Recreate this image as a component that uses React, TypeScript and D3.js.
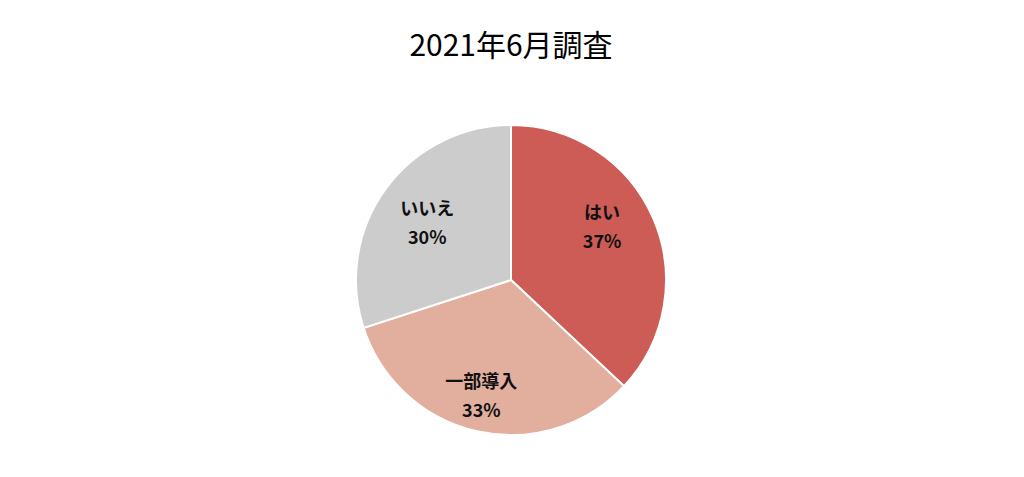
import React from "react";
import * as d3 from "d3";

const categories = ["はい", "一部導入", "いいえ"];
const values = [37, 33, 30];
const colors = ["#CD5C56", "#E2AE9E", "#CCCCCC"];
const title = "2021年6月調査";

// label placement (best-fit style): radius fraction and angle shift per slice
const labelRadius = [0.685, 0.76, 0.66];
const labelShift = [-7.5, 2.0, -1.0];

const width = 1024;
const height = 477;
const cx = 511;
const cy = 280;
const radius = 155;

export default function App() {
  const pie = d3
    .pie<number>()
    .sort(null)
    .value(d => d);
  const arcs = pie(values);
  const arc = d3.arc<d3.PieArcDatum<number>>().innerRadius(0).outerRadius(radius);
  const font = "'Noto Sans CJK JP', 'Noto Sans', sans-serif";

  return (
    <svg
      width={width}
      height={height}
      style={{ position: "absolute", left: 0, top: 0, background: "#fff" }}
    >
      <text
        x={cx}
        y={56}
        textAnchor="middle"
        fontFamily={font}
        fontSize={30}
        fill="#000"
      >
        {title}
      </text>
      <g transform={`translate(${cx},${cy})`}>
        {arcs.map((a, i) => (
          <path key={i} d={arc(a) as string} fill={colors[i]} stroke="#fff" strokeWidth={2} />
        ))}
        {arcs.map((a, i) => {
          const ang = (a.startAngle + a.endAngle) / 2 + (labelShift[i] * Math.PI) / 180;
          const r = radius * labelRadius[i];
          const x = r * Math.sin(ang);
          const y = -r * Math.cos(ang);
          return (
            <g key={"l" + i} transform={`translate(${x},${y})`} fontFamily={font} fontWeight="bold" fontSize={18} fill="#111" textAnchor="middle">
              <text y={-14} dominantBaseline="central">{categories[i]}</text>
              <text y={15} dominantBaseline="central">{values[i]}%</text>
            </g>
          );
        })}
      </g>
    </svg>
  );
}
